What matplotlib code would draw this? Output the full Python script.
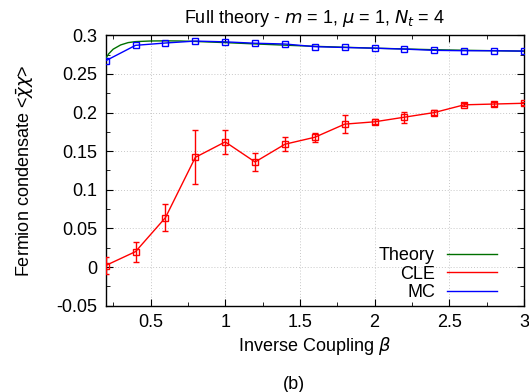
import numpy as np
import matplotlib.pyplot as plt
from matplotlib.ticker import MultipleLocator, FuncFormatter

plt.rcParams['font.family'] = ['Liberation Sans', 'DejaVu Sans']
plt.rcParams['mathtext.fontset'] = 'dejavusans'

# beta grid for the simulations
beta = [0.2, 0.4, 0.6, 0.8, 1.0, 1.2, 1.4, 1.6, 1.8, 2.0, 2.2, 2.4, 2.6, 2.8, 3.0]

# complex Langevin results
cle = [0.002, 0.020, 0.064, 0.142, 0.162, 0.136, 0.159, 0.168, 0.185, 0.188, 0.194, 0.200, 0.210, 0.211, 0.212]
cle_err = [0.011, 0.013, 0.017, 0.035, 0.016, 0.012, 0.009, 0.006, 0.012, 0.003, 0.007, 0.003, 0.002, 0.002, 0.002]

# Monte Carlo
mc = [0.267, 0.287, 0.290, 0.2925, 0.2915, 0.2897, 0.2887, 0.2853, 0.2842, 0.2833, 0.2821, 0.2805, 0.2800, 0.2800, 0.2795]

# exact result
beta_th = [0.2, 0.22, 0.25, 0.3, 0.35, 0.4, 0.5, 0.6, 0.7, 0.8, 1.0, 1.2, 1.4, 1.6, 1.8, 2.0, 2.2, 2.4, 2.6, 2.8, 3.0]
theory = [0.270, 0.276, 0.282, 0.2875, 0.2905, 0.2918, 0.2926, 0.2928, 0.2926, 0.2920, 0.2905, 0.2888, 0.2872, 0.2857, 0.2845, 0.2833, 0.2823, 0.2813, 0.2806, 0.2800, 0.2795]

fs = 13

fig = plt.figure(figsize=(5.29, 3.92), dpi=100)
ax = fig.add_axes([0.1998, 0.2202, 0.7907, 0.6898])

ax.plot(beta_th, theory, color='#007000', lw=1.0, label='Theory', zorder=3)
ax.errorbar(beta, cle, yerr=cle_err, color='#ff0000', lw=1.0, marker='s', ms=4,
            mfc='none', mew=1.0, capsize=2, elinewidth=1.0, label='CLE', zorder=4)
ax.plot(beta, mc, color='#0000ff', lw=1.0, marker='s', ms=4, mfc='none', mew=1.0,
        label='MC', zorder=5)

ax.set_xlim(0.2, 3.0)
ax.set_ylim(-0.05, 0.3)
ax.xaxis.set_major_locator(MultipleLocator(0.5))
ax.xaxis.set_minor_locator(MultipleLocator(0.25))
ax.yaxis.set_major_locator(MultipleLocator(0.05))
ax.yaxis.set_minor_locator(MultipleLocator(0.025))
ax.xaxis.set_major_formatter(FuncFormatter(lambda v, p: '%g' % v))
ax.yaxis.set_major_formatter(FuncFormatter(lambda v, p: '%g' % round(v, 3)))
ax.tick_params(which='both', direction='in', top=True, right=True, labelsize=fs)
ax.tick_params(which='major', length=5, pad=6)
ax.tick_params(which='minor', length=3)
ax.grid(True, which='major', color='#c8c8c8', ls=(0, (1, 2)), lw=0.7)
for s in ax.spines.values():
    s.set_linewidth(1.0)

ax.set_title(r'Full theory - $m$ = 1, $\mu$ = 1, $N_t$ = 4', fontsize=fs, pad=9)
ax.set_xlabel(r'Inverse Coupling $\beta$', fontsize=fs, labelpad=3)
ax.set_ylabel(r'Fermion condensate <$\bar{\chi}\chi$>', fontsize=fs, labelpad=15)
fig.text(0.555, 0.008, '(b)', ha='center', fontsize=fs)

handles = [plt.Line2D([], [], color=c, lw=1.0) for c in ('#007000', '#ff0000', '#0000ff')]
ax.legend(handles, ['Theory', 'CLE', 'MC'], loc='lower right', frameon=False,
          markerfirst=False, fontsize=fs, handlelength=2.8, handletextpad=0.65,
          labelspacing=0.08, borderpad=0, borderaxespad=0,
          bbox_to_anchor=(0.936, 0.017))

fig.savefig('out.png', dpi=100)
